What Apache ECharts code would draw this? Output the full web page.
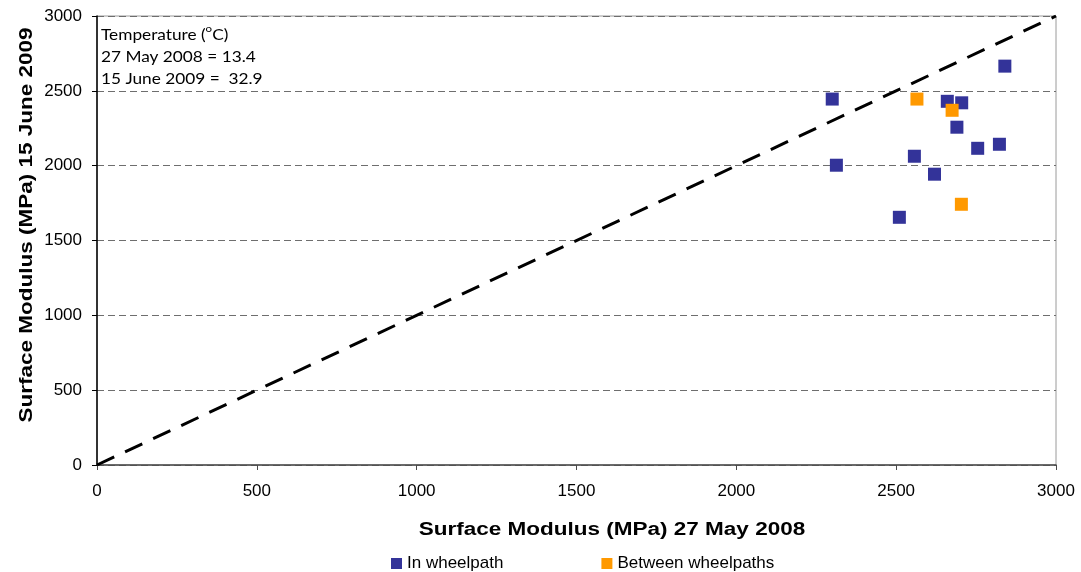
<!DOCTYPE html>
<html>
<head>
<meta charset="utf-8">
<script src="https://cdn.jsdelivr.net/npm/echarts@6/dist/echarts.min.js"></script>
<style>html,body{margin:0;padding:0;background:#fff}#c{width:1081px;height:572px}</style>
</head>
<body>
<div id="c"></div>
<script>
// Data
var inWheelpath = [
  [2840, 2665], [2300, 2445], [2660, 2430], [2705, 2420], [2690, 2257],
  [2755, 2116], [2823, 2143], [2313, 2003], [2557, 2063], [2620, 1943],
  [2510, 1655]
];
var betweenWheelpaths = [
  [2565, 2445], [2675, 2370], [2704, 1742]
];
var equalityLine = [[0, 0], [3000, 3000]];
var axisTicks = [0, 500, 1000, 1500, 2000, 2500, 3000];
var xTitle = 'Surface Modulus (MPa) 27 May 2008';
var yTitle = 'Surface Modulus (MPa) 15 June 2009';
var seriesNames = ['In wheelpath', 'Between wheelpaths'];

var chart = echarts.init(document.getElementById('c'));
var font = 'Liberation Sans, Arial, sans-serif';
var plain = function (v) { return String(v); };
chart.setOption({
  animation: false,
  grid: {left: 97, right: 25, top: 16, bottom: 107, show: true, borderColor: '#9a9a9a', borderWidth: 1},
  xAxis: {
    type: 'value', min: axisTicks[0], max: axisTicks[axisTicks.length - 1], interval: 500,
    axisLine: {show: true, onZero: false, lineStyle: {color: '#4a4a4a', width: 1.5}},
    axisTick: {show: true, length: 5, lineStyle: {color: '#4a4a4a'}},
    axisLabel: {color: '#000', fontFamily: font, fontSize: 17, margin: 18, formatter: plain},
    splitLine: {show: false}
  },
  yAxis: {
    type: 'value', min: axisTicks[0], max: axisTicks[axisTicks.length - 1], interval: 500,
    axisLine: {show: true, onZero: false, lineStyle: {color: '#000', width: 1.5}},
    axisTick: {show: true, length: 5, lineStyle: {color: '#000'}},
    axisLabel: {color: '#000', fontFamily: font, fontSize: 17, margin: 15, formatter: plain},
    splitLine: {show: true, lineStyle: {color: '#6e6e6e', width: 1, type: [7, 4]}}
  },
  legend: {
    data: seriesNames, left: 386, top: 550, icon: 'rect', itemWidth: 11, itemHeight: 11,
    itemGap: 98, textStyle: {color: '#000', fontFamily: font, fontSize: 17}
  },
  graphic: [
    {type: 'text', position: [612, 530], scaleX: 1.25,
     style: {text: xTitle, font: 'bold 18px ' + font, fill: '#000', textAlign: 'center', textVerticalAlign: 'middle'}},
    {type: 'text', position: [27, 225], rotation: Math.PI / 2, scaleX: 1.25,
     style: {text: yTitle, font: 'bold 18px ' + font, fill: '#000', textAlign: 'center', textVerticalAlign: 'middle'}},
    {type: 'text', position: [101, 24], scaleX: 1.15,
     style: {
       rich: {
         n: {fontFamily: 'Lato, Open Sans, sans-serif', fontSize: 15, lineHeight: 22, fill: '#000'},
         s: {fontFamily: 'Lato, Open Sans, sans-serif', fontSize: 10, verticalAlign: 'top', lineHeight: 22, padding: [0, 0, 8, 0], fill: '#000'}
       },
       text: '{n|Temperature (}{s|o}{n|C)}\n{n|27 May 2008 = 13.4}\n{n|15 June 2009 =  32.9}'
     }}
  ],
  series: [
    {name: seriesNames[0], type: 'scatter', data: inWheelpath, symbol: 'rect', symbolSize: 13, itemStyle: {color: '#333399', opacity: 1}, z: 3},
    {name: seriesNames[1], type: 'scatter', data: betweenWheelpaths, symbol: 'rect', symbolSize: 13, itemStyle: {color: '#FF9900', opacity: 1}, z: 3},
    {name: 'Equality', type: 'line', data: equalityLine, showSymbol: false, symbol: 'none',
     lineStyle: {color: '#000', width: 3, type: [19, 12]}, z: 2}
  ]
});
</script>
</body>
</html>
